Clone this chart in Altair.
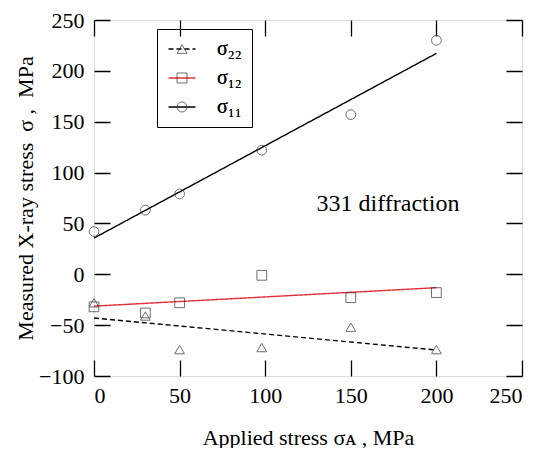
import altair as alt
import pandas as pd

# ---- data ----
stress = [0, 30, 50, 98, 150, 200]
sigma22 = [-28, -41, -74, -72, -52, -74]
sigma12 = [-32, -38, -28, -1, -23, -18]
sigma11 = [42, 63, 79, 122, 157, 230]
series_names = ["σ₂₂", "σ₁₂", "σ₁₁"]
x_ticks = [0, 50, 100, 150, 200, 250]
y_ticks = [-100, -50, 0, 50, 100, 150, 200, 250]
ann_x = [130]
ann_y = [69]
ann_text = ["331 diffraction"]

rows = []
for name, vals in zip(series_names, [sigma22, sigma12, sigma11]):
    for s, v in zip(stress, vals):
        rows.append({"stress": s, "value": v, "series": name})
df = pd.DataFrame(rows)
ann = pd.DataFrame({"x": ann_x, "y": ann_y, "t": ann_text})

W, H = 428, 356
TICK = 16
FONT = "Liberation Serif"
xs = alt.Scale(domain=[0, 250], nice=False, zero=False)
ys = alt.Scale(domain=[-100, 250], nice=False, zero=False)

# inward tick marks at both ends of each gridline: dash, long gap, dash
main_x_axis = alt.Axis(values=x_ticks, ticks=False, domain=False,
                       grid=True, gridColor="black", gridOpacity=1, gridWidth=1.3,
                       gridDash=[TICK, H - 2 * TICK, TICK],
                       labelFont=FONT, labelFontSize=22, labelColor="black", labelPadding=9,
                       title="Applied stress σᴀ , MPa", titleFont=FONT, titleFontSize=22,
                       titleFontWeight="normal", titleColor="black", titlePadding=21)
main_y_axis = alt.Axis(values=y_ticks, ticks=False, domain=False,
                       grid=True, gridColor="black", gridOpacity=1, gridWidth=1.3,
                       gridDash=[TICK, W - 2 * TICK, TICK],
                       labelFont=FONT, labelFontSize=22, labelColor="black", labelPadding=10,
                       title="Measured X-ray stress\u00a0 σ ,\u00a0 MPa", titleFont=FONT,
                       titleFontSize=22, titleFontWeight="normal", titleColor="black",
                       titlePadding=1)

legend_common = dict(orient="none", legendX=63, legendY=9, title=None,
                     labelFont=FONT, labelFontSize=20, labelColor="black",
                     padding=10, symbolOffset=5, labelOffset=25, rowPadding=9,
                     symbolSize=100)

line_legend = alt.Legend(symbolType="M-2.7,0H2.7", symbolStrokeWidth=1.4,
                         strokeColor="black", **legend_common)
shape_legend = alt.Legend(symbolStrokeColor="#333", symbolFillColor="transparent",
                          symbolStrokeWidth=1, **legend_common)

base = alt.Chart(df)

lines = base.transform_regression(
    "stress", "value", groupby=["series"], extent=[0, 200]
).mark_line(strokeWidth=1.4).encode(
    x=alt.X("stress:Q", scale=xs, axis=main_x_axis),
    y=alt.Y("value:Q", scale=ys, axis=main_y_axis),
    color=alt.Color("series:N", scale=alt.Scale(domain=series_names,
                                                range=["black", "#e0303a", "black"]),
                    legend=line_legend),
    strokeDash=alt.StrokeDash("series:N", scale=alt.Scale(domain=series_names,
                                                          range=[[5, 3], [1, 0], [1, 0]]),
                              legend=line_legend),
)

points = base.mark_point(filled=False, size=95, strokeWidth=1, color="#333").encode(
    x=alt.X("stress:Q", scale=xs, axis=None),
    y=alt.Y("value:Q", scale=ys, axis=None),
    shape=alt.Shape("series:N", sort=series_names,
                    scale=alt.Scale(range=["triangle-up", "square", "circle"]),
                    legend=shape_legend),
)

text = alt.Chart(ann).mark_text(align="left", baseline="middle", font=FONT,
                                fontSize=24, color="black").encode(
    x=alt.X("x:Q", scale=xs, axis=None),
    y=alt.Y("y:Q", scale=ys, axis=None),
    text="t:N",
)

chart = alt.layer(lines, points, text).resolve_axis(
    x="independent", y="independent"
).properties(
    width=W, height=H,
    autosize=alt.AutoSizeParams(type="none"),
    padding={"left": 86, "top": 12, "right": 5, "bottom": 72},
).configure_view(stroke="black", strokeWidth=1.5).configure(background="white")

chart.save("out.html", embed_options={"renderer": "svg", "actions": False})
